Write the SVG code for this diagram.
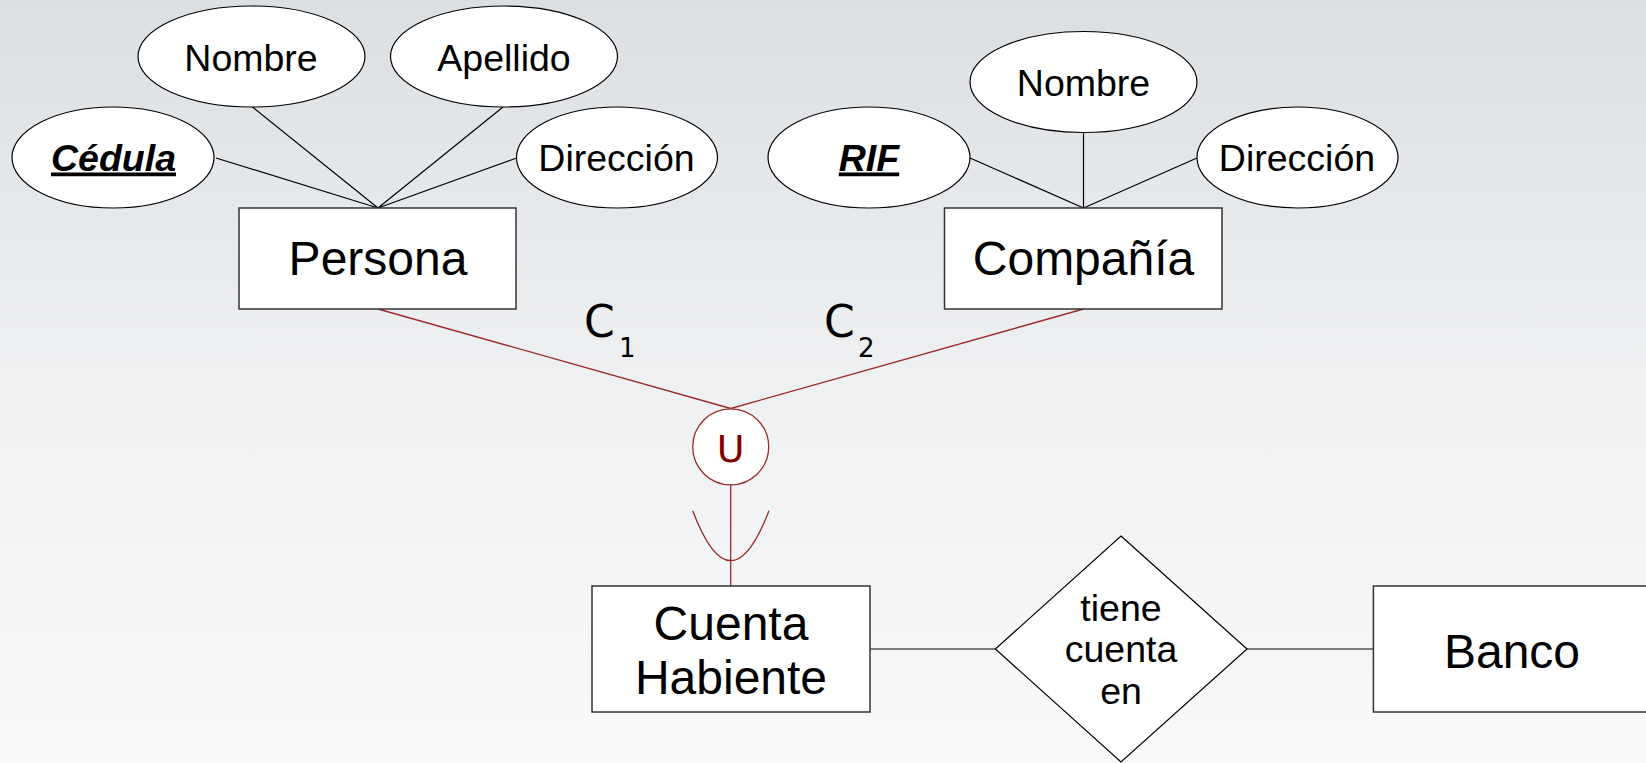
<svg xmlns="http://www.w3.org/2000/svg" width="1646" height="763" viewBox="0 0 1646 763">
<defs>
<linearGradient id="bg" x1="0" y1="0" x2="0" y2="1">
<stop offset="0" stop-color="#dcdfe2"/>
<stop offset="0.5" stop-color="#eef0f2"/>
<stop offset="1" stop-color="#f8f9fa"/>
</linearGradient>
<style>
.attr{fill:#fff;stroke:#000;stroke-width:1.2}
.ent{fill:#fff;stroke:#333;stroke-width:1.5}
.t{font-family:"Liberation Sans",Arial,sans-serif;fill:#000;text-anchor:middle}
.a{font-size:37.5px}
.e{font-size:48px}
.k{font-size:37.5px;font-weight:bold;font-style:italic;text-decoration:underline}
.ln{stroke:#000;stroke-width:1.2;fill:none}
.rd{stroke:#9a2a2a;stroke-width:1.3;fill:none}
.c{font-family:"DejaVu Sans",sans-serif;fill:#000}
</style>
</defs>
<rect width="1646" height="763" fill="url(#bg)"/>
<g id="connectors">
<line class="ln" x1="216" y1="158" x2="378" y2="208"/>
<line class="ln" x1="252.5" y1="107" x2="378" y2="208"/>
<line class="ln" x1="503" y1="107" x2="378" y2="208"/>
<line class="ln" x1="516.5" y1="158" x2="378" y2="208"/>
<line class="ln" x1="970" y1="158" x2="1083.5" y2="208"/>
<line class="ln" x1="1083.5" y1="132.7" x2="1083.5" y2="208"/>
<line class="ln" x1="1197" y1="158" x2="1083.5" y2="208"/>
<line class="rd" x1="378" y1="309" x2="730.7" y2="408.5"/>
<line class="rd" x1="1083.5" y1="309" x2="730.7" y2="408.5"/>
<line class="rd" x1="730.7" y1="485" x2="730.7" y2="586"/>
<path class="rd" d="M692.7 510.7 Q730.7 610.7 769 510.7"/>
<line class="ln" x1="870" y1="649" x2="995.4" y2="649"/>
<line class="ln" x1="1247" y1="649" x2="1373.4" y2="649"/>
</g>
<g id="attr-cedula"><ellipse class="attr" cx="113" cy="157.5" rx="101" ry="50.5"/><text class="t k" x="113.5" y="170.5">Cédula</text></g>
<g id="attr-nombre-p"><ellipse class="attr" cx="251.5" cy="56.5" rx="113.5" ry="50.5"/><text class="t a" x="251" y="70.5">Nombre</text></g>
<g id="attr-apellido"><ellipse class="attr" cx="504" cy="56.5" rx="113.5" ry="50.5"/><text class="t a" x="504" y="70.5">Apellido</text></g>
<g id="attr-direccion-p"><ellipse class="attr" cx="617" cy="157.5" rx="100.5" ry="50.5"/><text class="t a" x="616.5" y="170.5">Dirección</text></g>
<g id="attr-rif"><ellipse class="attr" cx="869" cy="157.5" rx="101" ry="50.5"/><text class="t k" x="869" y="170.5">RIF</text></g>
<g id="attr-nombre-c"><ellipse class="attr" cx="1083.5" cy="82" rx="113.5" ry="50.5"/><text class="t a" x="1083.5" y="96">Nombre</text></g>
<g id="attr-direccion-c"><ellipse class="attr" cx="1297.5" cy="157.5" rx="100.5" ry="50.5"/><text class="t a" x="1297" y="170.5">Dirección</text></g>
<g id="persona"><rect class="ent" x="239" y="208" width="277" height="101"/><text class="t e" x="378" y="274.5">Persona</text></g>
<g id="compania"><rect class="ent" x="944.5" y="208" width="277.5" height="101"/><text class="t e" x="1083.5" y="274.5">Compañía</text></g>
<g id="labels">
<text class="c" x="584" y="337" font-size="44">C</text><text class="c" x="619" y="357" font-size="26">1</text>
<text class="c" x="824" y="337" font-size="44">C</text><text class="c" x="858" y="357" font-size="26">2</text>
</g>
<g id="union"><circle cx="730.7" cy="446.8" r="38" fill="#fff" stroke="#9a2a2a" stroke-width="1.3"/><text class="c" x="730.7" y="462" font-size="38" text-anchor="middle" style="fill:#800000">U</text></g>
<g id="cuenta-habiente"><rect class="ent" x="592" y="586" width="278" height="126"/><text class="t e" x="731" y="639.5">Cuenta</text><text class="t e" x="731" y="693.5">Habiente</text></g>
<g id="tiene-cuenta-en"><polygon class="attr" points="1121,536 1247,649 1121,762 995.4,649"/><text class="t a" x="1121" y="620.5">tiene</text><text class="t a" x="1121" y="662">cuenta</text><text class="t a" x="1121" y="703.5">en</text></g>
<g id="banco"><rect class="ent" x="1373.4" y="586" width="278" height="126"/><text class="t e" x="1512" y="667.5">Banco</text></g>
</svg>
